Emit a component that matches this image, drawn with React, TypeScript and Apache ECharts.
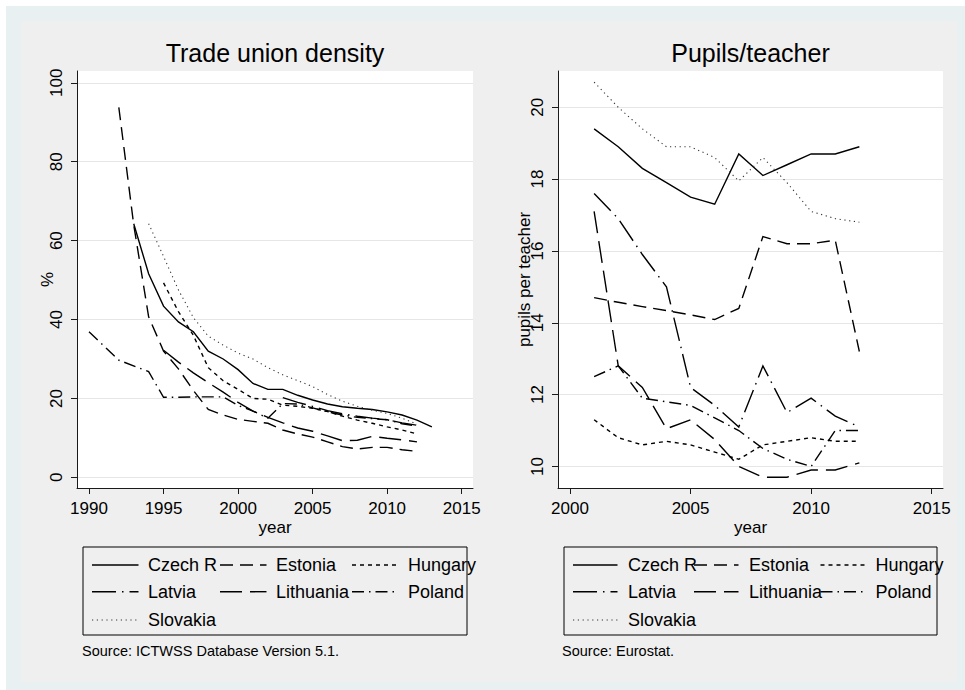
import React, { useEffect, useRef } from "react";
import * as echarts from "echarts";

const FONT = "'Liberation Sans', Arial, Helvetica, sans-serif";

const countries = ["Czech R", "Estonia", "Hungary", "Latvia", "Lithuania", "Poland", "Slovakia"];

// Trade union density (%), ICTWSS Database 5.1
const czechUdYears = [1993, 1994, 1995, 1996, 1997, 1998, 1999, 2000, 2001, 2002, 2003, 2004, 2005, 2006, 2007, 2008, 2009, 2010, 2011, 2012, 2013];
const czechUd = [64.3, 51.6, 43.4, 39.4, 36.9, 32.0, 30.0, 27.3, 23.8, 22.3, 22.3, 20.8, 19.6, 18.6, 17.9, 17.5, 17.2, 16.6, 15.8, 14.5, 12.8];
const estoniaUdYears = [1992, 1993, 1994, 1995, 1996, 1997, 1998, 1999, 2000, 2001, 2002, 2003, 2004, 2005, 2006, 2007, 2008, 2009, 2010, 2011, 2012];
const estoniaUd = [93.8, 64.0, 40.7, 32.0, 27.5, 22.0, 17.2, 15.8, 14.7, 14.2, 13.7, 12.0, 11.0, 10.2, 9.0, 7.8, 7.2, 7.6, 7.6, 7.0, 6.6];
const hungaryUdYears = [1995, 1996, 1997, 1998, 1999, 2000, 2001, 2002, 2003, 2004, 2005, 2006, 2007, 2008, 2009, 2010, 2011, 2012];
const hungaryUd = [49.3, 42.0, 36.0, 27.8, 24.5, 22.3, 20.0, 19.8, 18.3, 18.0, 17.5, 16.7, 15.5, 14.5, 13.7, 12.8, 12.0, 11.0];
const latviaUdYears = [2003, 2004, 2005, 2006, 2007, 2008, 2009, 2010, 2011, 2012];
const latviaUd = [20.2, 19.0, 18.0, 16.9, 16.1, 15.5, 15.0, 14.6, 13.8, 13.2];
const lithuaniaUdYears = [1995, 1996, 1997, 1998, 1999, 2000, 2001, 2002, 2003, 2004, 2005, 2006, 2007, 2008, 2009, 2010, 2011, 2012];
const lithuaniaUd = [32.2, 29.2, 26.5, 24.0, 21.6, 19.0, 16.8, 15.2, 13.8, 12.5, 11.7, 10.5, 9.3, 9.4, 10.4, 9.9, 9.5, 9.0];
const polandUdYears = [1990, 1992, 1994, 1995, 1996, 1997, 1998, 1999, 2000, 2001, 2002, 2003, 2004, 2005, 2006, 2007, 2008, 2009, 2010, 2011, 2012];
const polandUd = [36.9, 29.7, 26.8, 20.3, 20.3, 20.4, 20.4, 20.4, 18.2, 16.8, 15.0, 18.7, 18.6, 17.6, 16.6, 15.8, 15.2, 14.9, 14.6, 13.6, 13.0];
const slovakiaUdYears = [1994, 1995, 1996, 1997, 1998, 1999, 2000, 2001, 2002, 2003, 2004, 2005, 2006, 2007, 2008, 2009, 2010, 2011, 2012];
const slovakiaUd = [64.3, 56.0, 47.5, 40.5, 35.8, 33.5, 31.5, 30.0, 27.8, 26.0, 24.5, 23.0, 21.0, 19.3, 18.0, 17.0, 16.2, 15.0, 13.5];

// Pupils per teacher, Eurostat
const pupilYears = [2001, 2002, 2003, 2004, 2005, 2006, 2007, 2008, 2009, 2010, 2011, 2012];
const czechPupils = [19.4, 18.9, 18.3, 17.9, 17.5, 17.3, 18.7, 18.1, 18.4, 18.7, 18.7, 18.9];
const estoniaPupils = [14.7, 14.57, 14.45, 14.34, 14.22, 14.09, 14.4, 16.4, 16.2, 16.2, 16.3, 13.2];
const hungaryPupils = [11.3, 10.8, 10.6, 10.7, 10.6, 10.4, 10.2, 10.6, 10.7, 10.8, 10.7, 10.7];
const latviaPupils = [17.6, 16.9, 15.9, 15.0, 12.2, 11.7, 11.1, 12.8, 11.5, 11.9, 11.4, 11.1];
const lithuaniaPupils = [17.1, 12.8, 12.2, 11.05, 11.3, 10.75, 10.0, 9.7, 9.7, 9.9, 9.9, 10.1];
const polandPupils = [12.5, 12.8, 11.9, 11.8, 11.7, 11.35, 11.0, 10.5, 10.2, 10.0, 11.0, 11.0];
const slovakiaPupils = [20.7, 20.0, 19.4, 18.9, 18.9, 18.6, 17.95, 18.6, 17.9, 17.1, 16.9, 16.8];

const udTicksX = [1990, 1995, 2000, 2005, 2010, 2015];
const udTicksY = [0, 20, 40, 60, 80, 100];
const pupilTicksX = [2000, 2005, 2010, 2015];
const pupilTicksY = [10, 12, 14, 16, 18, 20];

// line patterns per country (solid, dash, short dash, long dash-dot, long dash, dash-dot, dot)
const patterns: Record<string, any> = {
  "Czech R": "solid",
  Estonia: [13, 7],
  Hungary: [4, 4],
  Latvia: [24, 6, 1.5, 6],
  Lithuania: [22, 8],
  Poland: [12, 5, 1.5, 5],
  Slovakia: [1.2, 3.6],
};

const udSeries: [string, number[], number[]][] = [
  ["Czech R", czechUdYears, czechUd],
  ["Estonia", estoniaUdYears, estoniaUd],
  ["Hungary", hungaryUdYears, hungaryUd],
  ["Latvia", latviaUdYears, latviaUd],
  ["Lithuania", lithuaniaUdYears, lithuaniaUd],
  ["Poland", polandUdYears, polandUd],
  ["Slovakia", slovakiaUdYears, slovakiaUd],
];

const pupilSeries: [string, number[], number[]][] = [
  ["Czech R", pupilYears, czechPupils],
  ["Estonia", pupilYears, estoniaPupils],
  ["Hungary", pupilYears, hungaryPupils],
  ["Latvia", pupilYears, latviaPupils],
  ["Lithuania", pupilYears, lithuaniaPupils],
  ["Poland", pupilYears, polandPupils],
  ["Slovakia", pupilYears, slovakiaPupils],
];

function pairs(xs: number[], ys: number[]) {
  return xs.map((x, i) => [x, ys[i]]);
}

function lineWidthFor(name: string) {
  return name === "Slovakia" ? 1.1 : 1.4;
}

function makeSeries(list: [string, number[], number[]][], axisIndex: number) {
  return list.map(([name, xs, ys]) => ({
    type: "line",
    name,
    xAxisIndex: axisIndex,
    yAxisIndex: axisIndex,
    data: pairs(xs, ys),
    showSymbol: false,
    symbol: "none",
    silent: true,
    lineStyle: {
      color: name === "Slovakia" ? "#333" : "#000",
      width: lineWidthFor(name),
      type: patterns[name],
      cap: "butt",
      join: "miter",
    },
  }));
}

const plainNumber = (v: number) => String(v);

function xAxisFor(gridIndex: number, min: number, max: number, ticks: number[]) {
  return {
    gridIndex,
    type: "value",
    min,
    max,
    axisLine: { show: true, onZero: false, lineStyle: { color: "#1a1a1a", width: 1 } },
    axisTick: { show: true, length: 6, customValues: ticks, lineStyle: { color: "#1a1a1a", width: 1 } },
    axisLabel: { customValues: ticks, formatter: plainNumber, fontSize: 17, color: "#000", margin: 12, fontFamily: FONT },
    splitLine: { show: false },
    name: "year",
    nameLocation: "middle",
    nameGap: 31,
    nameMoveOverlap: false,
    nameTextStyle: { fontSize: 17, color: "#000", fontFamily: FONT },
  };
}

function yAxisFor(gridIndex: number, min: number, max: number, ticks: number[], name: string, gap: number) {
  return {
    gridIndex,
    type: "value",
    min,
    max,
    axisLine: { show: true, onZero: false, lineStyle: { color: "#1a1a1a", width: 1 } },
    axisTick: { show: true, length: 6, customValues: ticks, lineStyle: { color: "#1a1a1a", width: 1 } },
    axisLabel: { customValues: ticks, formatter: plainNumber, fontSize: 17, color: "#000", margin: 12, rotate: 90, fontFamily: FONT },
    splitLine: { show: true, lineStyle: { color: "#e6e6e6", width: 1 } },
    name,
    nameLocation: "middle",
    nameGap: gap,
    nameMoveOverlap: false,
    nameTextStyle: { fontSize: 17, color: "#000", fontFamily: FONT },
  };
}

// legend layout: three columns, three rows, inside a framed box
const legendRows = [565, 591.7, 620];
const legendCells: [string, number, number][] = [
  ["Czech R", 0, 0],
  ["Estonia", 1, 0],
  ["Hungary", 2, 0],
  ["Latvia", 0, 1],
  ["Lithuania", 1, 1],
  ["Poland", 2, 1],
  ["Slovakia", 0, 2],
];

function legendGraphics(box: { x: number; w: number }, keyX: number[], textX: number[], keyLen: number) {
  const out: any[] = [
    {
      type: "rect",
      shape: { x: box.x, y: 547, width: box.w, height: 88 },
      style: { fill: "none", stroke: "#000", lineWidth: 1 },
      silent: true,
    },
  ];
  legendCells.forEach(([name, col, row]) => {
    const y = legendRows[row];
    const dash = patterns[name];
    out.push({
      type: "line",
      shape: { x1: keyX[col], y1: y, x2: keyX[col] + keyLen, y2: y },
      style: {
        stroke: name === "Slovakia" ? "#333" : "#000",
        lineWidth: lineWidthFor(name),
        lineDash: dash === "solid" ? null : dash,
        lineCap: "butt",
      },
      silent: true,
    });
    out.push({
      type: "text",
      x: textX[col],
      y,
      style: { text: name, fontSize: 18, fill: "#000", fontFamily: FONT, textAlign: "left", textVerticalAlign: "middle" },
      silent: true,
    });
  });
  return out;
}

function textEl(text: string, x: number, y: number, size: number, align: string) {
  return {
    type: "text",
    x,
    y,
    silent: true,
    style: { text, fontSize: size, fill: "#000", fontFamily: FONT, textAlign: align, textVerticalAlign: "middle" },
  };
}

export default function App() {
  const ref = useRef<HTMLDivElement>(null);

  useEffect(() => {
    if (!ref.current) return;
    const chart = echarts.init(ref.current, undefined, { renderer: "svg" });
    const option: any = {
      animation: false,
      backgroundColor: "transparent",
      grid: [
        { left: 77, top: 71, width: 396, height: 417, show: true, backgroundColor: "#fff", borderWidth: 0, containLabel: false, outerBoundsMode: "none" },
        { left: 558, top: 71, width: 385, height: 417, show: true, backgroundColor: "#fff", borderWidth: 0, containLabel: false, outerBoundsMode: "none" },
      ],
      xAxis: [
        xAxisFor(0, 1989.195, 2015.758, udTicksX),
        xAxisFor(1, 1999.502, 2015.469, pupilTicksX),
      ],
      yAxis: [
        yAxisFor(0, -2.7, 103, udTicksY, "%", 21),
        yAxisFor(1, 9.4, 21.01, pupilTicksY, "pupils per teacher", 25),
      ],
      series: [...makeSeries(udSeries, 0), ...makeSeries(pupilSeries, 1)],
      graphic: [
        textEl("Trade union density", 275, 52.5, 25, "center"),
        textEl("Pupils/teacher", 750.5, 52.5, 25, "center"),
        ...legendGraphics({ x: 83, w: 384 }, [92, 220, 352], [148, 276, 408], 46.5),
        ...legendGraphics({ x: 564, w: 373 }, [573, 694, 820.5], [628, 749, 875.5], 44.5),
        textEl("Source: ICTWSS Database Version 5.1.", 82, 651, 14.5, "left"),
        textEl("Source: Eurostat.", 562, 651, 14.5, "left"),
      ],
    };
    chart.setOption(option);
    return () => chart.dispose();
  }, []);

  return (
    <div style={{ position: "fixed", left: 0, top: 0, width: 965, height: 690, background: "#fff", overflow: "hidden" }}>
      <div style={{ position: "absolute", left: 6, top: 6, width: 959, height: 684, background: "#e9f0f2" }} />
      <div style={{ position: "absolute", left: 21, top: 21, width: 936, height: 661, background: "#efefef" }} />
      <div ref={ref} style={{ position: "absolute", left: 0, top: 0, width: 965, height: 690 }} />
    </div>
  );
}
